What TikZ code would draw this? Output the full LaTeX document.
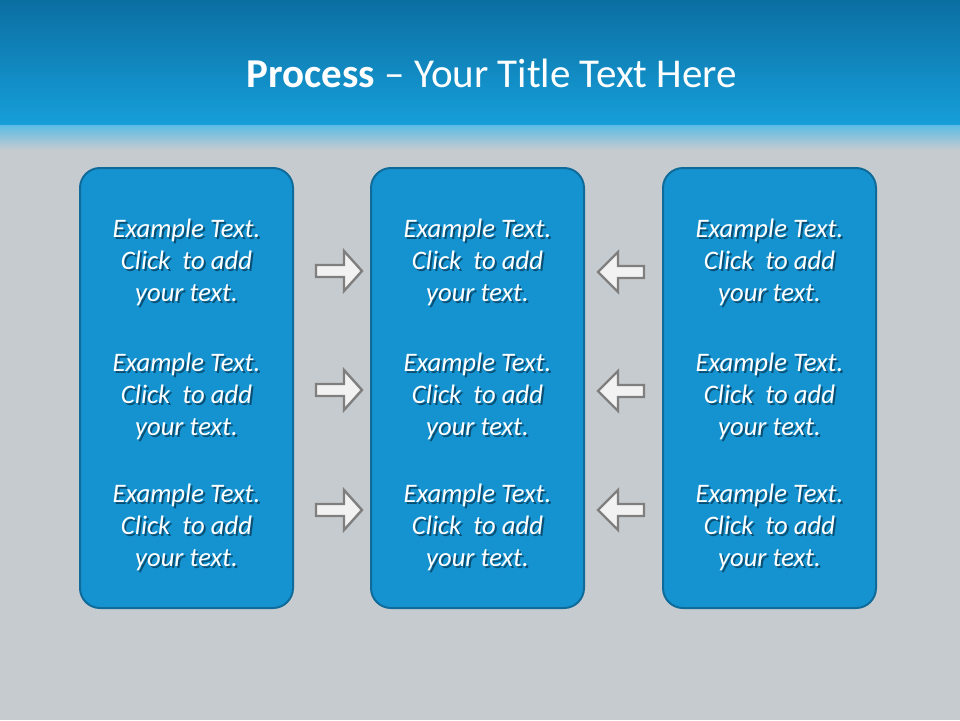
\documentclass[tikz,border=0pt]{standalone}
\usepackage{fontspec}
\setmainfont{Carlito}
\definecolor{hdrtop}{HTML}{0B6EA1}
\definecolor{hdrbot}{HTML}{169FDA}
\definecolor{bggray}{HTML}{C6CBCF}
\definecolor{boxfill}{HTML}{1593D1}
\definecolor{boxedge}{HTML}{0F6B99}
\definecolor{arrfill}{HTML}{F2F2F2}
\definecolor{arredge}{HTML}{7F7F7F}
\definecolor{shadowcol}{HTML}{0A4F73}
\newcommand{\shtext}[1]{\leavevmode\rlap{\raisebox{-2pt}{\hspace{2pt}\color{shadowcol}\begin{tabular}{@{}c@{}}#1\end{tabular}}}\begin{tabular}{@{}c@{}}#1\end{tabular}}
\newcommand{\mytext}{Example Text.\\Click\ \ to add\\your text.}
\tikzset{
  panel/.style={draw=boxedge, line width=2pt, fill=boxfill, rounded corners=20pt},
  txt/.style={text=white, align=center, inner sep=0pt, font=\fontsize{26.7}{32}\selectfont\itshape},
  blockarrow/.style={draw=arredge, fill=arrfill, line width=2.4pt, line join=miter},
  pics/rarrow/.style={code={
    \draw[blockarrow] (-23,-6) -- (5,-6) -- (5,-20) -- (23,0) -- (5,20) -- (5,6) -- (-23,6) -- cycle;
  }},
  pics/larrow/.style={code={
    \draw[blockarrow] (23,-6) -- (-3,-6) -- (-3,-20) -- (-23,0) -- (-3,20) -- (-3,6) -- (23,6) -- cycle;
  }},
}
\begin{document}
\begin{tikzpicture}[x=1pt,y=-1pt]
\useasboundingbox (0,0) rectangle (960,720);
% background
\fill[bggray] (0,0) rectangle (960,720);
\shade[top color=hdrtop, bottom color=hdrbot] (0,0) rectangle (960,125);
\shade[top color=hdrbot!70!white, bottom color=bggray] (0,125) rectangle (960,150);
% title
\node[text=white, font=\fontsize{41}{48}\selectfont] (title) at (492,73) {\textbf{Process} -- Your Title Text Here};
% panels
\foreach \n/\xa in {L/80, M/371, R/663} {
  \draw[panel] (\xa,168) rectangle ++(213,440);
  \coordinate (\n) at (\xa+106.5,0);
}
% texts
\foreach \n in {L,M,R} {
  \foreach \k/\yy in {1/264, 2/398, 3/529} {
    \node[txt] (t\n\k) at (\n |- 0,\yy) {\shtext{\mytext}};
  }
}
% arrows
\foreach \k/\yy in {1/271, 2/390, 3/510} {
  \pic at (339,\yy) {rarrow};
}
\foreach \k/\yy in {1/272, 2/391, 3/510} {
  \pic at (621,\yy) {larrow};
}
\end{tikzpicture}
\end{document}
